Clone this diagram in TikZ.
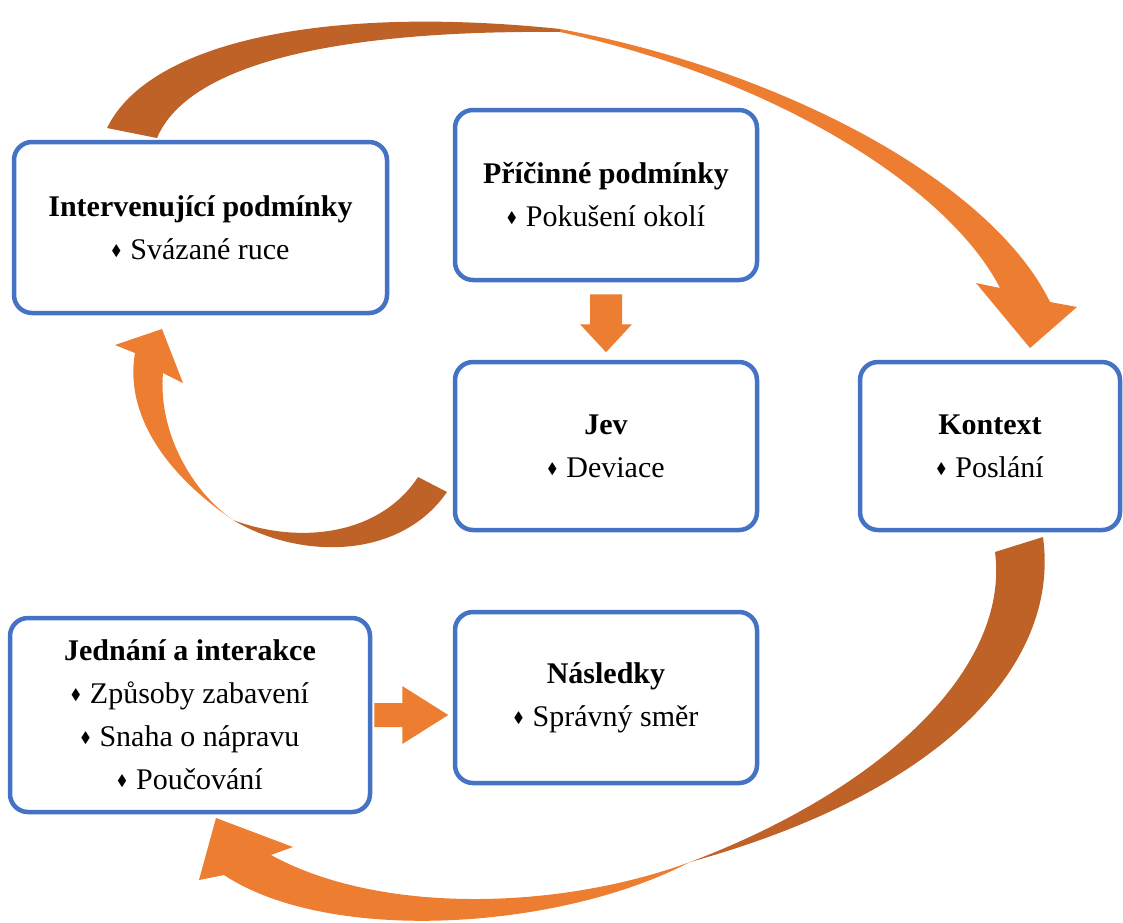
\documentclass[tikz,border=0pt]{standalone}
\usepackage{fontspec}
\setmainfont{Liberation Serif}
\usepackage{amssymb}
\usetikzlibrary{
  calc,
}
\definecolor{boxblue}{RGB}{68,114,196}
\definecolor{flowlight}{RGB}{237,125,49}
\definecolor{flowdark}{RGB}{190,98,40}
\newcommand\bul{\raisebox{.3ex}{\scalebox{.5}{$\blacklozenge$}}\hspace{.3em}}

\begin{document}
\begin{tikzpicture}[
    x=1pt, y=-1pt,
    box/.style={
        rectangle, rounded corners=18pt,
        draw=boxblue, line width=4.5pt, fill=white,
        align=center, inner sep=0pt,
        font=\fontsize{30}{43}\selectfont,
      },
    front/.style={
        fill=flowlight,
      },
    back/.style={
        fill=flowdark,
      }
  ]
  \useasboundingbox (0,0) rectangle (1123,922);

  % ribbon arrows
  \fill[back] (107,128) .. controls (150,40) and (330,5) .. (560,29)
    -- (560,32) .. controls (350,30) and (190,60) .. (157,138) -- cycle;
  \fill[front] (560,29) .. controls (780,70) and (990,180) .. (1050,302)
    -- (1077,307) -- (1030,348) -- (976,283) -- (1000,288)
    .. controls (950,190) and (780,80) .. (560,32) -- cycle;

  \fill[back] (447,492) .. controls (400,560) and (300,560) .. (233,520)
    .. controls (300,545) and (380,535) .. (418,477) -- cycle;
  \fill[front] (233,520) .. controls (160,470) and (125,410) .. (135,353)
    -- (115,345) -- (162,329) -- (183,383) -- (163,373)
    .. controls (158,430) and (190,490) .. (233,520) -- cycle;

  \fill[back] (1043,537) .. controls (1060,660) and (950,790) .. (690,862)
    .. controls (880,790) and (1010,670) .. (995,552) -- cycle;
  \fill[front] (690,862) .. controls (560,910) and (380,915) .. (271,855)
    -- (293,847) -- (216,818) -- (199,880) -- (224,875)
    .. controls (330,945) and (560,930) .. (690,862) -- cycle;

  % boxes
  \node[box, minimum width=373pt, minimum height=171pt] (interv) at (200.5,227.5)
    {\textbf{Intervenující podmínky}\\\bul Svázané ruce};
  \node[box, minimum width=302pt, minimum height=170pt] (pricin) at (606,195)
    {\textbf{Příčinné podmínky}\\\bul Pokušení okolí};
  \node[box, minimum width=302pt, minimum height=168pt] (jev) at (606,446)
    {\textbf{Jev}\\\bul Deviace};
  \node[box, minimum width=260pt, minimum height=168pt] (kontext) at (990,446)
    {\textbf{Kontext}\\\bul Poslání};
  \node[box, minimum width=360pt, minimum height=194pt] (jednani) at (190,715)
    {\textbf{Jednání a interakce}\\\bul Způsoby zabavení\\\bul Snaha o nápravu\\\bul Poučování};
  \node[box, minimum width=302pt, minimum height=171pt] (nasledky) at (606,697.5)
    {\textbf{Následky}\\\bul Správný směr};

  % block arrows
  \fill[front] ($(pricin.south)+(-16,12)$) -- ++(32,0) -- ++(0,30) -- ++(10,0)
    -- ++(-26,28) -- ++(-26,-28) -- ++(10,0) -- cycle;
  \fill[front] ($(jednani.east)+(2,-12)$) -- ++(28,0) -- ++(0,-17) -- ++(46,29)
    -- ++(-46,29) -- ++(0,-17) -- ++(-28,0) -- cycle;
\end{tikzpicture}
\end{document}
